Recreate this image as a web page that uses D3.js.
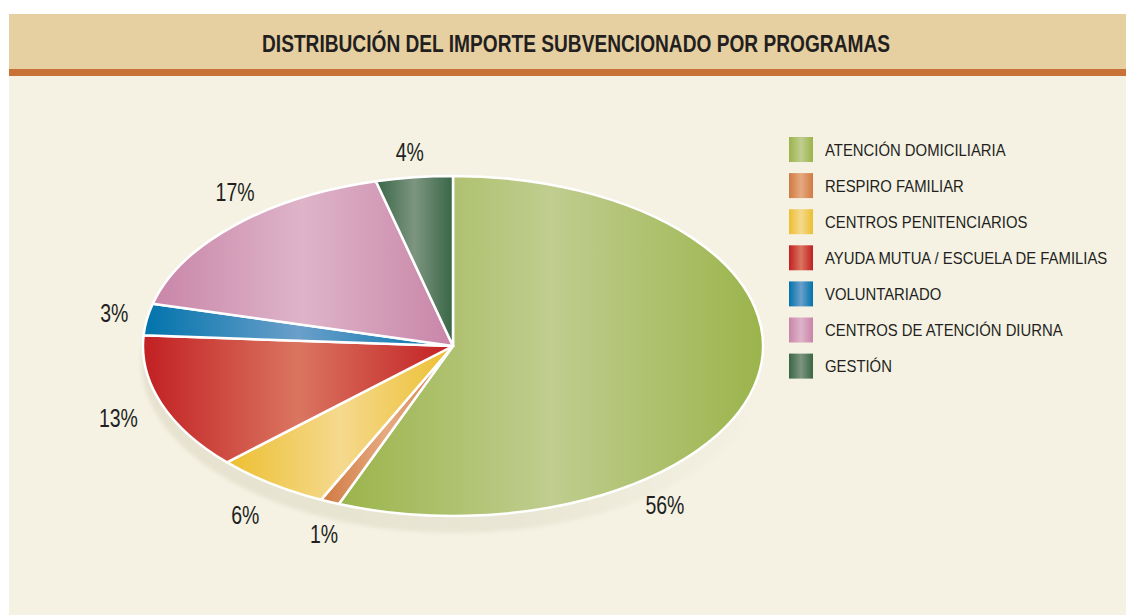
<!DOCTYPE html>
<html>
<head>
<meta charset="utf-8">
<script src="https://cdn.jsdelivr.net/npm/d3@7"></script>
<style>
  html, body { margin: 0; padding: 0; background: #ffffff; }
  svg { display: block; }
  text { font-family: "Liberation Sans", Arial, sans-serif; fill: #231f20; }
</style>
</head>
<body>
<div id="chart"></div>
<script>
  // Programs and their share of the subsidised amount (%)
  var programs = [
      'ATENCIÓN DOMICILIARIA',
      'RESPIRO FAMILIAR',
      'CENTROS PENITENCIARIOS',
      'AYUDA MUTUA / ESCUELA DE FAMILIAS',
      'VOLUNTARIADO',
      'CENTROS DE ATENCIÓN DIURNA',
      'GESTIÓN'
  ];
  var shares = [56, 1, 6, 13, 3, 17, 4];
  var shareLabels = ['56%', '1%', '6%', '13%', '3%', '17%', '4%'];

  // Gradient colours: [edge, middle]
  var edgeColors = ['#9bb44b', '#d07a42', '#ecbf30', '#c21f22', '#0073ab', '#c985a8', '#386646'];
  var midColors  = ['#c0cd8f', '#e6aa80', '#f5d98e', '#da7560', '#6a9fca', '#deb4c9', '#7d9580'];

  var width = 1126;
  var height = 615;

  var svg = d3.select('#chart')
      .append('svg')
      .attr('width', width)
      .attr('height', height);

  // Gradients for slices and legend swatches
  var defs = svg.append('defs');
  shares.forEach(function(d, i) {
      var g = defs.append('linearGradient')
          .attr('id', 'grad' + i)
          .attr('x1', 0).attr('x2', 1).attr('y1', 0).attr('y2', 0);
      g.append('stop').attr('offset', '0%').attr('stop-color', edgeColors[i]);
      g.append('stop').attr('offset', '50%').attr('stop-color', midColors[i]);
      g.append('stop').attr('offset', '100%').attr('stop-color', edgeColors[i]);
  });

  var shadowGrad = defs.append('linearGradient')
      .attr('id', 'shadowGrad')
      .attr('x1', 0).attr('x2', 1).attr('y1', 0).attr('y2', 0);
  shadowGrad.append('stop').attr('offset', '0%').attr('stop-color', '#e6e2cf');
  shadowGrad.append('stop').attr('offset', '60%').attr('stop-color', '#e9e6d5');
  shadowGrad.append('stop').attr('offset', '100%').attr('stop-color', '#f5f2e4');

  defs.append('filter').attr('id', 'blur')
      .append('feGaussianBlur').attr('stdDeviation', 2);

  // Background panel, header band and rule
  svg.append('rect')
      .attr('x', 9).attr('y', 14)
      .attr('width', width - 9).attr('height', height - 14)
      .attr('fill', '#f5f2e4');

  svg.append('rect')
      .attr('x', 9).attr('y', 14)
      .attr('width', width - 9).attr('height', 55)
      .attr('fill', '#e6cfa1');

  svg.append('rect')
      .attr('x', 9).attr('y', 69)
      .attr('width', width - 9).attr('height', 7)
      .attr('fill', '#c87238');

  svg.append('text')
      .attr('x', 576)
      .attr('y', 43)
      .attr('text-anchor', 'middle')
      .attr('dominant-baseline', 'central')
      .attr('textLength', 628)
      .attr('lengthAdjust', 'spacingAndGlyphs')
      .style('font-size', '24px')
      .style('font-weight', 'bold')
      .text('DISTRIBUCIÓN DEL IMPORTE SUBVENCIONADO POR PROGRAMAS');

  // Pie, drawn as a tilted ellipse
  var cx = 453, cy = 346;
  var rx = 310, ry = 170;

  var pie = d3.pie().sort(null).value(function(d) { return d; });
  var arcs = pie(shares);

  var arc = d3.arc().innerRadius(0).outerRadius(rx);

  // Shadow under the pie
  svg.append('ellipse')
      .attr('cx', cx + 2)
      .attr('cy', cy + 15)
      .attr('rx', rx + 4)
      .attr('ry', ry + 2)
      .attr('fill', 'url(#shadowGrad)')
      .attr('filter', 'url(#blur)');

  var pieG = svg.append('g')
      .attr('transform', 'translate(' + cx + ',' + cy + ') scale(1,' + (ry / rx) + ')');

  pieG.selectAll('path')
      .data(arcs)
      .enter()
      .append('path')
      .attr('d', arc)
      .attr('fill', function(d, i) { return 'url(#grad' + i + ')'; })
      .attr('stroke', '#ffffff')
      .attr('stroke-width', 2.5)
      .attr('stroke-linejoin', 'round')
      .attr('vector-effect', 'non-scaling-stroke');

  // Percentage labels on a larger ellipse, with small hand nudges
  var lrx = 345, lry = 208;
  var labelNudge = [[-127, 121], [8, -2], [-5, 1], [-10, 2], [2, 0], [26, -6], [0, 13]];

  svg.selectAll('.pct')
      .data(arcs)
      .enter()
      .append('g')
      .attr('class', 'pct')
      .attr('transform', function(d, i) {
          var a = (d.startAngle + d.endAngle) / 2;
          var x = cx + Math.sin(a) * lrx + labelNudge[i][0];
          var y = cy - Math.cos(a) * lry + labelNudge[i][1];
          return 'translate(' + x + ',' + y + ') scale(0.78,1)';
      })
      .append('text')
      .attr('text-anchor', 'middle')
      .attr('dominant-baseline', 'central')
      .style('font-size', '25px')
      .text(function(d, i) { return shareLabels[i]; });

  // Legend
  var legendY = d3.scaleBand()
      .domain(programs)
      .range([137, 137 + 36.1 * programs.length]);

  var legend = svg.selectAll('.legend')
      .data(programs)
      .enter()
      .append('g')
      .attr('class', 'legend')
      .attr('transform', function(d) { return 'translate(789,' + legendY(d) + ')'; });

  legend.append('rect')
      .attr('width', 24)
      .attr('height', 25)
      .attr('fill', function(d, i) { return 'url(#grad' + i + ')'; });

  legend.append('text')
      .attr('transform', 'translate(36,13) scale(0.93,1)')
      .attr('dominant-baseline', 'central')
      .style('font-size', '16px')
      .text(function(d) { return d; });
</script>
</body>
</html>
